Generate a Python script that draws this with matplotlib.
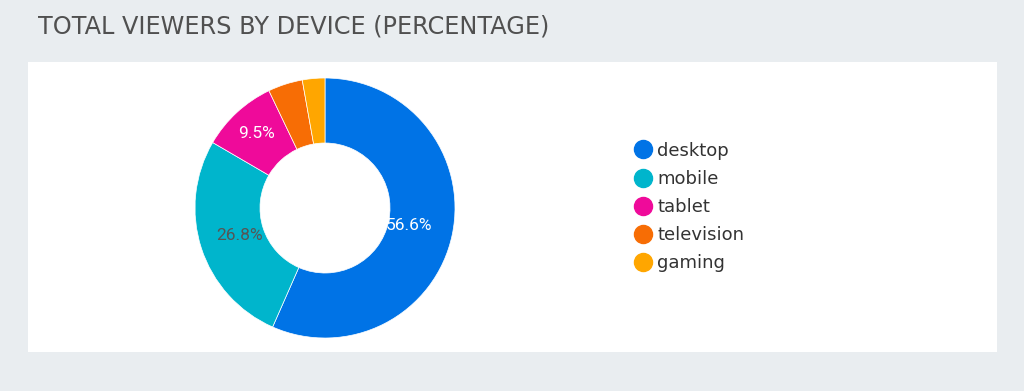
import matplotlib
matplotlib.use("Agg")
import matplotlib.pyplot as plt
from matplotlib.patches import Rectangle
from matplotlib.lines import Line2D
import numpy as np

categories = ["desktop", "mobile", "tablet", "television", "gaming"]
values = [56.6, 26.8, 9.5, 4.3, 2.8]
colors = ["#0073E6", "#00B5CC", "#EF0A9A", "#F76D05", "#FFA600"]
label_colors = ["white", "#555555", "white", None, None]
label_dist = [0.66, 0.69, 0.78, 0, 0]
title = "TOTAL VIEWERS BY DEVICE (PERCENTAGE)"

W, H = 1024, 391
fig = plt.figure(figsize=(W / 100, H / 100), dpi=100)
fig.patch.set_facecolor("#E9EDF0")

# white panel
fig.patches.append(Rectangle((28 / W, 1 - 352 / H), (997 - 28) / W, (352 - 62) / H,
                             transform=fig.transFigure, facecolor="white",
                             edgecolor="none", zorder=-5))

fig.text(38 / W, 1 - 26.5 / H, title, fontsize=17.3, color="#505050",
         family="DejaVu Sans", va="center", ha="left")

cx, cy, r = 325, 208, 130
half = 135
ax = fig.add_axes([(cx - half) / W, 1 - (cy + half) / H, 2 * half / W, 2 * half / H])
ax.set_zorder(2)
ax.patch.set_alpha(0)
wedges, _ = ax.pie(values, colors=colors, startangle=90, counterclock=False,
                   radius=1, wedgeprops=dict(width=0.5, edgecolor="white", linewidth=0.5))
theta = 90.0
total = sum(values)
for v, lc, d in zip(values, label_colors, label_dist):
    span = v / total * 360
    mid = np.deg2rad(theta - span / 2)
    theta -= span
    if lc is None:
        continue
    ax.text(d * np.cos(mid), d * np.sin(mid), f"{v:.1f}%", color=lc,
            fontsize=12.5, family="Roboto", ha="center", va="center")
lim = half / r
ax.set_xlim(-lim, lim)
ax.set_ylim(-lim, lim)
ax.set_axis_off()

handles = [Line2D([], [], marker="o", linestyle="none", markersize=13,
                  markerfacecolor=c, markeredgecolor=c) for c in colors]
leg = fig.legend(handles, categories, loc="center left",
                 bbox_to_anchor=(633 / W, 1 - 207 / H), frameon=False,
                 prop=dict(family="DejaVu Sans", size=13), labelcolor="#333333",
                 handletextpad=0.25, labelspacing=0.56, borderaxespad=0, borderpad=0,
                 handlelength=1.1)
leg.set_zorder(3)

fig.savefig("out.png", dpi=100, facecolor=fig.get_facecolor())
